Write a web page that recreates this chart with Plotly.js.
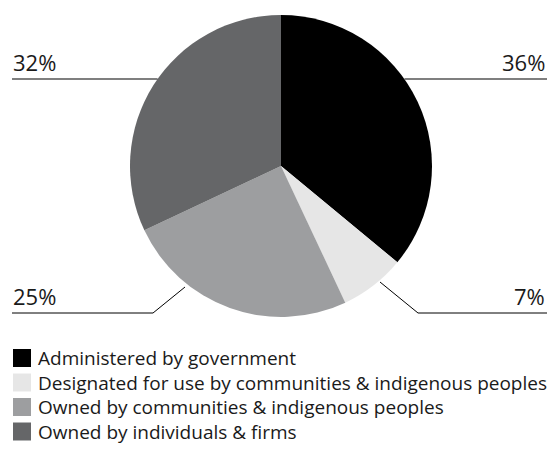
<!DOCTYPE html>
<html>
<head>
<meta charset="utf-8">
<script src="https://cdn.plot.ly/plotly-3.0.1.min.js"></script>
<style>html,body{margin:0;padding:0;background:#fff;}#chart{width:549px;height:460px;}</style>
</head>
<body>
<div id="chart"></div>
<script>
// ---- data ----
var categories = [
  "Administered by government",
  "Designated for use by communities & indigenous peoples",
  "Owned by communities & indigenous peoples",
  "Owned by individuals & firms"
];
var shares = [36, 7, 25, 32];
var sliceColors = ["#000000", "#e6e6e6", "#9d9ea0", "#656668"];

// ---- layout geometry (pixels) ----
var W = 549, H = 460;
var cx = 281, cy = 166, r = 151;
function px(x) { return x / W; }
function py(y) { return 1 - y / H; }

var font = "'Open Sans', 'Noto Sans', sans-serif";

var trace = {
  type: "pie",
  labels: categories,
  values: shares,
  sort: false,
  direction: "clockwise",
  rotation: 0,
  marker: { colors: sliceColors, line: { width: 0 } },
  textinfo: "none",
  hoverinfo: "label+percent",
  showlegend: false,
  domain: { x: [px(cx - r), px(cx + r)], y: [py(cy + r), py(cy - r)] }
};

// percent labels with leader lines
var labelSpecs = [
  { i: 0, lx: 547, anchor: "right", ly: 62, lineY: 79, side: 1, diag: null },
  { i: 1, lx: 547, anchor: "right", ly: 296, lineY: 313, side: 1, diag: [380, 282, 418] },
  { i: 2, lx: 11, anchor: "left", ly: 296, lineY: 313, side: -1, diag: [185, 287, 153] },
  { i: 3, lx: 11, anchor: "left", ly: 62, lineY: 79, side: -1, diag: null }
];

var annotations = [];
var shapes = [];
labelSpecs.forEach(function (s) {
  annotations.push({
    xref: "paper", yref: "paper",
    x: px(s.lx), y: py(s.ly),
    xanchor: s.anchor, yanchor: "middle",
    text: shares[s.i] + "%",
    showarrow: false,
    font: { family: font, size: 22, color: "#1a1a1a" }
  });
  var outerX = s.side > 0 ? 547 : 12;
  if (s.diag) {
    shapes.push({ type: "path", xref: "paper", yref: "paper",
      path: "M" + px(s.diag[0]) + "," + py(s.diag[1]) +
            " L" + px(s.diag[2]) + "," + py(s.lineY) +
            " L" + px(outerX) + "," + py(s.lineY),
      line: { color: "#000", width: 1 } });
  } else {
    var dx = Math.sqrt(r * r - (cy - s.lineY) * (cy - s.lineY));
    var edgeX = cx + s.side * dx;
    shapes.push({ type: "line", xref: "paper", yref: "paper",
      x0: px(edgeX), y0: py(s.lineY), x1: px(outerX), y1: py(s.lineY),
      line: { color: "#000", width: 1.2 } });
  }
});

// legend (manual)
var legTop = 358, legStep = 24.5, sq = 18;
categories.forEach(function (c, k) {
  var yc = legTop + k * legStep;
  shapes.push({ type: "rect", xref: "paper", yref: "paper",
    x0: px(13), x1: px(13 + sq), y0: py(yc + sq / 2), y1: py(yc - sq / 2),
    fillcolor: sliceColors[k], line: { width: 0 } });
  annotations.push({ xref: "paper", yref: "paper",
    x: px(36), y: py(yc), xanchor: "left", yanchor: "middle",
    text: c, showarrow: false,
    font: { family: font, size: 19, color: "#1a1a1a" } });
});

var layout = {
  width: W, height: H,
  margin: { l: 0, r: 0, t: 0, b: 0 },
  paper_bgcolor: "#fff",
  showlegend: false,
  annotations: annotations,
  shapes: shapes
};

Plotly.newPlot("chart", [trace], layout, { displayModeBar: false, staticPlot: true });
</script>
</body>
</html>
